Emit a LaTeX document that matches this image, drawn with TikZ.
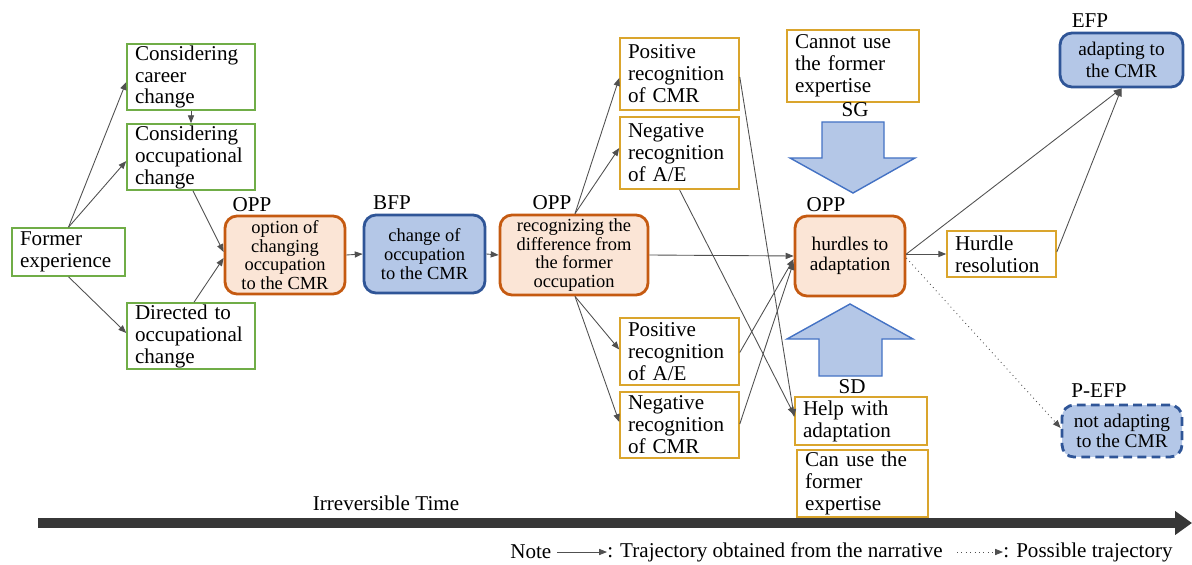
\documentclass[tikz,border=0pt]{standalone}
\usepackage{fontspec}
\setmainfont{Liberation Serif}
\usetikzlibrary{arrows.meta,calc}
\definecolor{gbord}{RGB}{112,173,71}
\definecolor{ybord}{RGB}{218,165,45}
\definecolor{obord}{RGB}{197,90,17}
\definecolor{ofill}{RGB}{251,229,214}
\definecolor{bbord}{RGB}{47,85,151}
\definecolor{bfill}{RGB}{180,199,231}
\definecolor{abord}{RGB}{68,114,196}
\definecolor{conncol}{RGB}{80,80,80}
\definecolor{tdark}{RGB}{55,55,55}
\tikzset{
  plainbox/.style={draw, line width=0.9pt, fill=white, inner xsep=0.16cm, inner ysep=0pt, align=left, font=\fontsize{12}{12.5}\selectfont},
  gbox/.style={plainbox, draw=gbord},
  ybox/.style={plainbox, draw=ybord},
  rbox/.style={draw, rounded corners=0.24cm, line width=1.6pt, align=center, inner sep=2pt, font=\fontsize{10.5}{10.6}\selectfont},
  obox/.style={rbox, draw=obord, fill=ofill},
  bbox/.style={rbox, draw=bbord, fill=bfill},
  lab/.style={font=\fontsize{12}{12}\selectfont, inner sep=0pt},
  conn/.style={draw=conncol, line width=0.5pt, -{Triangle[length=4.5pt,width=3.5pt]}},
  poss/.style={conn, dotted},
  bigarrow/.style={fill=bfill, draw=abord, line width=0.8pt, line join=miter}
}
\begin{document}
\begin{tikzpicture}[x=0.02cm,y=-0.02cm]
\useasboundingbox (0,0) rectangle (1192,564);

% green boxes
\node[gbox, text width=1.94cm, minimum height=0.96cm] (fe) at (68.5,252) {Former\\experience};
\node[gbox, text width=2.24cm, minimum height=1.32cm] (cc) at (191,77) {Considering\\career\\change};
\node[gbox, text width=2.24cm, minimum height=1.32cm] (co) at (191,157) {Considering\\occupational\\change};
\node[gbox, text width=2.24cm, minimum height=1.32cm] (dt) at (191,336) {Directed to\\occupational\\change};

% rounded boxes
\node[obox, minimum width=2.4cm, minimum height=1.56cm] (o1) at (285,255) {option of\\changing\\occupation\\to the CMR};
\node[lab] (lo1) at (252,205) {OPP};
\node[bbox, minimum width=2.42cm, minimum height=1.56cm] (bf) at (424.5,254) {change of\\occupation\\to the CMR};
\node[lab] (lbf) at (392,203) {BFP};
\node[obox, minimum width=2.96cm, minimum height=1.6cm] (o2) at (574,255) {recognizing the\\difference from\\the former\\occupation};
\node[lab] (lo2) at (552,203) {OPP};
\node[obox, minimum width=2.2cm, minimum height=1.6cm, font=\fontsize{11}{11}\selectfont] (o3) at (850,256) {hurdles to\\adaptation};
\node[lab] (lo3) at (826,205) {OPP};
\node[bbox, minimum width=2.46cm, minimum height=1.08cm, font=\fontsize{11}{12.3}\selectfont] (efp) at (1121.5,60) {adapting to\\the CMR};
\node[lab] (lefp) at (1090,21) {EFP};
\node[bbox, dashed, dash pattern=on 5pt off 3pt, minimum width=2.4cm, minimum height=1.04cm, font=\fontsize{11}{11.5}\selectfont] (pefp) at (1122,431) {not adapting\\to the CMR};
\node[lab] (lpefp) at (1099,391) {P-EFP};

% gold boxes
\node[ybox, text width=2.06cm, minimum height=1.44cm] (pc) at (679.5,74) {Positive\\recognition\\of CMR};
\node[ybox, text width=2.06cm, minimum height=1.44cm] (na) at (679.5,153) {Negative\\recognition\\of A/E};
\node[ybox, text width=2.06cm, minimum height=1.34cm] (pa) at (679.5,351.5) {Positive\\recognition\\of A/E};
\node[ybox, text width=2.06cm, minimum height=1.32cm] (nc) at (679.5,425) {Negative\\recognition\\of CMR};
\node[ybox, text width=2.32cm, minimum height=1.44cm] (cu) at (853,66) {Cannot use\\the former\\expertise};
\node[ybox, text width=2.32cm, minimum height=0.96cm] (hw) at (861,421) {Help with\\adaptation};
\node[ybox, text width=2.30cm, minimum height=1.34cm] (cn) at (862.5,483.5) {Can use the\\former\\expertise};
\node[ybox, text width=1.86cm, minimum height=0.92cm] (hr) at (1001.5,254) {Hurdle\\resolution};

% SG / SD arrows
\draw[bigarrow] (822,122) -- (884,122) -- (884,158) -- (915,158) -- (853,193) -- (790,158) -- (822,158) -- cycle;
\node[lab] (lsg) at (855,110) {SG};
\draw[bigarrow] (850,304) -- (913,339) -- (882,339) -- (882,376) -- (819,376) -- (819,339) -- (787,339) -- cycle;
\node[lab] (lsd) at (852,387) {SD};

% connectors
\draw[conn] (fe.north) -- ($(cc.west)+(0,5)$);
\draw[conn] (fe.north) -- ($(co.west)+(0,4)$);
\draw[conn] (fe.south) -- ($(dt.west)+(0,-3)$);
\draw[conn] (cc.south) -- (co.north);
\draw[conn] ($(co.south)+(2,0)$) -- ($(o1.west)+(0,-3)$);
\draw[conn] ($(dt.north)+(3,0)$) -- ($(o1.west)+(0,3)$);
\draw[conn] (o1.east) -- (bf.west);
\draw[conn] (bf.east) -- (o2.west);
\draw[conn] ($(o2.north)+(1,0)$) -- ($(pc.west)+(0,4)$);
\draw[conn] ($(o2.north)+(1,0)$) -- ($(na.west)+(0,-5)$);
\draw[conn] ($(o2.south)+(1,0)$) -- ($(pa.west)+(0,-2)$);
\draw[conn] ($(o2.south)+(1,0)$) -- ($(nc.west)+(0,-3)$);
\draw[conn] (o2.east) -- (o3.west);
\draw[conn] ($(pa.east)+(0,1)$) -- ($(o3.west)+(0,3)$);
\draw[conn] ($(nc.east)+(0,-1)$) -- ($(o3.west)+(0,6)$);
\draw[conn] ($(pc.east)+(0,3)$) -- ($(hw.west)+(0,-4)$);
\draw[conn] (na.south) -- ($(hw.west)+(0,-6)$);
\draw[conn] ($(o3.east)+(0,-2)$) -- (hr.west);
\draw[conn] ($(o3.east)+(0,-2)$) -- (efp.south);
\draw[conn] ($(hr.east)+(0,-2)$) -- (efp.south);
\draw[poss] ($(o3.east)+(0,2)$) -- ($(pefp.west)+(0,-3)$);

% time axis
\coordinate (ts) at (38,523);
\coordinate (te) at (1192,523);
\draw[tdark, line width=5.5pt, -{Triangle[length=0.34cm,width=0.46cm]}] (ts) -- (te);
\node[lab] (time) at (386,503) {Irreversible Time};

% note
\node[lab, anchor=west] (note) at (510,552) {Note};
\coordinate (n1) at (557,552);
\coordinate (n2) at (607,552);
\draw[conn] (n1) -- (n2);
\node[lab, anchor=west] (t1) at (607,552) {: Trajectory obtained from the narrative};
\coordinate (n3) at (957,552);
\coordinate (n4) at (1003,552);
\draw[poss] (n3) -- (n4);
\node[lab, anchor=west] (t2) at (1003,552) {: Possible trajectory};
\end{tikzpicture}
\end{document}
